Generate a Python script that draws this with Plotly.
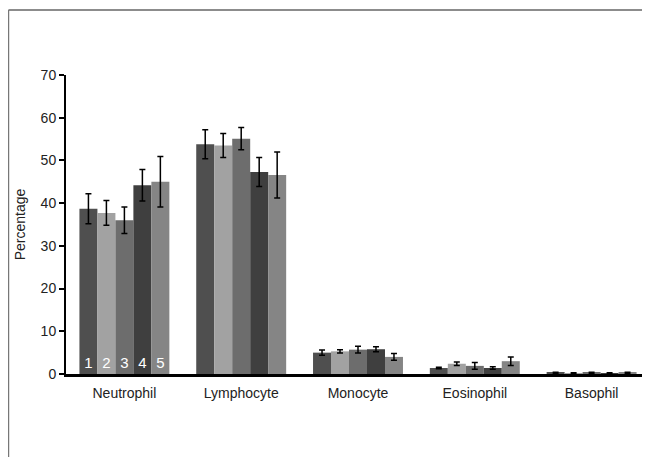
import plotly.graph_objects as go

categories = ["Neutrophil", "Lymphocyte", "Monocyte", "Eosinophil", "Basophil"]
group_labels = ["1", "2", "3", "4", "5"]

values = [
    [38.7, 53.8, 5.0, 1.4, 0.3],
    [37.7, 53.5, 5.3, 2.4, 0.2],
    [36.0, 55.1, 5.7, 1.9, 0.3],
    [44.2, 47.3, 5.8, 1.4, 0.2],
    [45.0, 46.6, 4.0, 3.0, 0.3],
]
errors = [
    [3.5, 3.4, 0.6, 0.2, 0.1],
    [2.9, 2.8, 0.4, 0.4, 0.1],
    [3.1, 2.6, 0.8, 0.8, 0.1],
    [3.7, 3.4, 0.6, 0.3, 0.1],
    [5.9, 5.4, 0.8, 1.0, 0.1],
]
colors = ["#4f4f4f", "#a2a2a2", "#6d6d6d", "#3f3f3f", "#858585"]

fig = go.Figure()
for i, lab in enumerate(group_labels):
    fig.add_trace(go.Bar(
        x=categories, y=values[i], name=lab,
        marker=dict(color=colors[i], line=dict(width=0)),
        error_y=dict(type="data", array=errors[i], color="black", thickness=1.5, width=3),
        text=[lab] + [""] * (len(categories) - 1),
        textposition="inside", insidetextanchor="start", textangle=0,
        constraintext="none",
        textfont=dict(color="white", size=15, family="Liberation Sans, Arial"),
    ))

fig.update_layout(
    width=642, height=449,
    margin=dict(l=58, r=0, t=67, b=83),
    paper_bgcolor="white", plot_bgcolor="white",
    barmode="group", bargap=0.23, bargroupgap=0,
    showlegend=False,
    font=dict(family="Liberation Sans, Arial", size=14, color="#222"),
    xaxis=dict(showline=True, linecolor="black", linewidth=2.5, ticks="",
               ticklabelstandoff=4, showgrid=False, zeroline=False,
               tickfont=dict(size=14)),
    yaxis=dict(range=[0, 70], dtick=10, showline=True, linecolor="black", linewidth=2,
               ticks="outside", ticklen=5, tickwidth=2, tickcolor="black",
               showgrid=False, zeroline=False, tickfont=dict(size=14),
               title=dict(text="Percentage", font=dict(size=14), standoff=12)),
    shapes=[
        dict(type="line", xref="paper", yref="paper", x0=-0.0985, x1=1.0, y0=1.217, y1=1.217,
             line=dict(color="#666", width=1.5)),
        dict(type="line", xref="paper", yref="paper", x0=-0.0985, x1=-0.0985, y0=1.217, y1=-0.3,
             line=dict(color="#777", width=1.5)),
    ],
)

fig.write_html("out.html")
